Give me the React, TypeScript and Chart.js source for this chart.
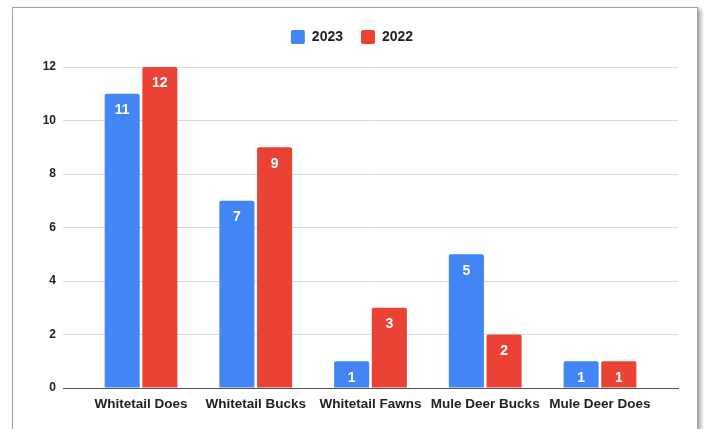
import React, { useEffect, useRef } from "react";
import { Chart, registerables } from "chart.js";

Chart.register(...registerables);

const categories = ["Whitetail Does", "Whitetail Bucks", "Whitetail Fawns", "Mule Deer Bucks", "Mule Deer Does"];
const values2023 = [11, 7, 1, 5, 1];
const values2022 = [12, 9, 3, 2, 1];
const yTicks = [0, 2, 4, 6, 8, 10, 12];

const FONT = '"Liberation Sans", Arial, sans-serif';

const valueLabels = {
  id: "valueLabels",
  afterDatasetsDraw(chart: any) {
    const { ctx } = chart;
    ctx.save();
    ctx.fillStyle = "#ffffff";
    ctx.font = `bold 14px ${FONT}`;
    ctx.textAlign = "center";
    ctx.textBaseline = "middle";
    chart.data.datasets.forEach((ds: any, i: number) => {
      const meta = chart.getDatasetMeta(i);
      meta.data.forEach((el: any, j: number) => {
        ctx.fillText(String(ds.data[j].y), el.x, el.y + 16.5);
      });
    });
    ctx.restore();
  },
};

export default function App() {
  const ref = useRef<HTMLCanvasElement | null>(null);
  useEffect(() => {
    if (!ref.current) return;
    Chart.defaults.font.family = FONT;
    const chart = new Chart(ref.current, {
      type: "bar",
      data: {
        datasets: [
          {
            label: "2023",
            data: values2023.map((y, i) => ({ x: i, y })),
            backgroundColor: "#4285F4",
            borderWidth: 0,
            borderRadius: { topLeft: 2, topRight: 2, bottomLeft: 0, bottomRight: 0 },
            borderSkipped: "bottom",
            categoryPercentage: 0.657,
            barPercentage: 0.93,
          },
          {
            label: "2022",
            data: values2022.map((y, i) => ({ x: i, y })),
            backgroundColor: "#EA4335",
            borderWidth: 0,
            borderRadius: { topLeft: 2, topRight: 2, bottomLeft: 0, bottomRight: 0 },
            borderSkipped: "bottom",
            categoryPercentage: 0.657,
            barPercentage: 0.93,
          },
        ],
      },
      options: {
        responsive: false,
        animation: false,
        layout: { padding: { left: 26, right: 26, top: 12, bottom: 0 } },
        plugins: {
          legend: {
            display: true,
            position: "top",
            align: "center",
            labels: {
              boxWidth: 14,
              boxHeight: 14,
              padding: 18,
              color: "#222222",
              useBorderRadius: true,
              borderRadius: 2,
              font: { size: 14, weight: "bold", family: FONT },
            },
          },
          title: {
            display: true,
            text: "",
            position: "top",
            weight: 500,
            padding: { top: 12, bottom: 0 },
            font: { size: 1, lineHeight: 1 },
          },
          tooltip: { enabled: false },
        },
        scales: {
          x: {
            type: "linear",
            min: -0.68,
            max: 4.68,
            offset: false,
            afterBuildTicks: (s: any) => {
              s.ticks = categories.map((_, i) => ({ value: i }));
            },
            afterFit: (s: any) => {
              s.height = 41;
            },
            grid: { display: false, offset: false, drawTicks: false },
            border: { display: true, color: "#555555", width: 1, z: 1 },
            ticks: {
              autoSkip: false,
              maxRotation: 0,
              padding: 8,
              color: "#222222",
              font: { size: 13.5, weight: "bold", family: FONT },
              callback: (v: any) => categories[v] ?? "",
            },
          },
          y: {
            min: 0,
            max: 12,
            afterBuildTicks: (s: any) => {
              s.ticks = yTicks.map((v) => ({ value: v }));
            },
            afterFit: (s: any) => {
              s.width = 37;
            },
            grid: { color: "#dadada", lineWidth: 1, drawTicks: false },
            border: { display: false },
            ticks: {
              padding: 7,
              color: "#222222",
              font: { size: 12, weight: "bold", family: FONT },
            },
          },
        },
      },
      plugins: [valueLabels],
    } as any);
    return () => chart.destroy();
  }, []);

  return (
    <div style={{ position: "absolute", left: 0, top: 0, width: 704, height: 429, overflow: "hidden", background: "#fff" }}>
      <div
        style={{
          position: "absolute",
          left: 12,
          top: 7,
          width: 686,
          height: 440,
          boxSizing: "border-box",
          border: "1px solid #a3a3a3",
          boxShadow: "3px 2px 4px rgba(0,0,0,0.35)",
          background: "#fff",
        }}
      />
      <canvas ref={ref} width={704} height={429} style={{ position: "absolute", left: 0, top: 0 }} />
    </div>
  );
}
